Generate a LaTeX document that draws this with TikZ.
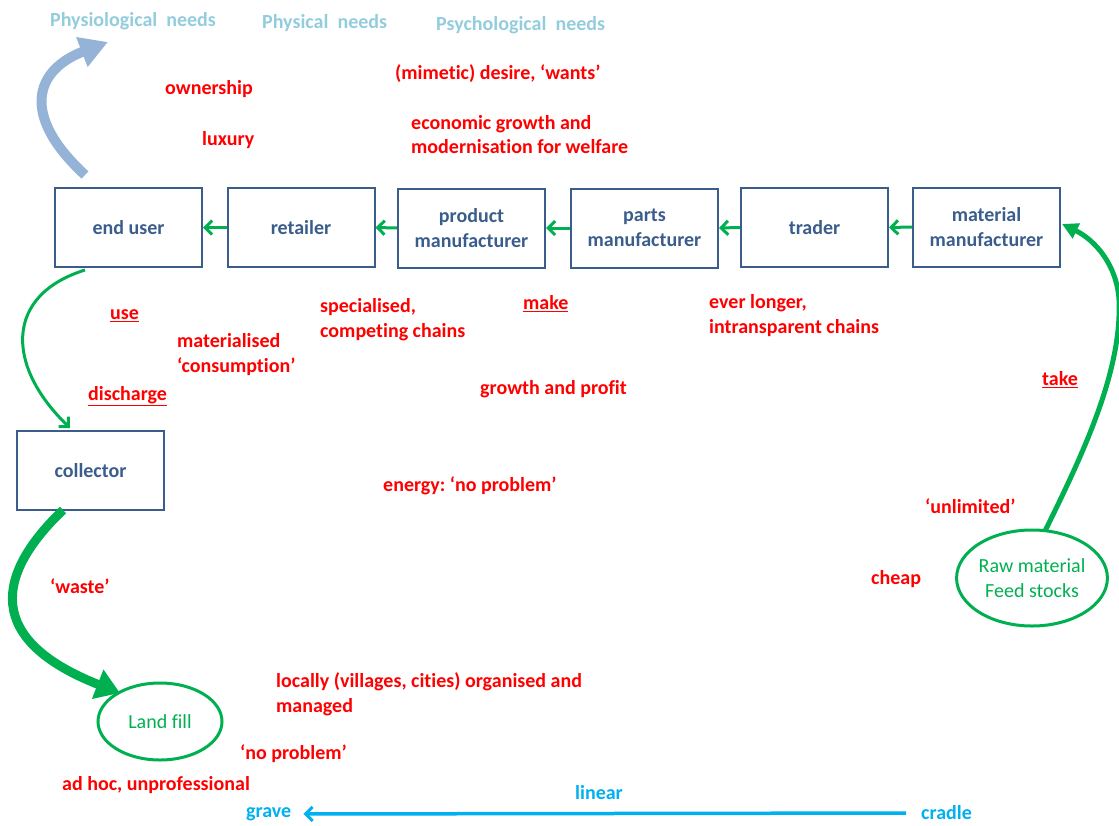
\documentclass[tikz,border=0pt]{standalone}
\usepackage{fontspec}
\setmainfont{Carlito}[Ligatures=NoCommon]
\usetikzlibrary{arrows.meta,shapes.geometric}
\definecolor{boxblue}{HTML}{3A5D8C}
\definecolor{flowgreen}{HTML}{00B050}
\definecolor{notered}{HTML}{FF0000}
\definecolor{needblue}{HTML}{93CDDD}
\definecolor{steelarrow}{HTML}{95B3D7}
\definecolor{lineblue}{HTML}{00B0F0}
\newcommand\lblfont{\fontsize{20}{24.8}\selectfont\bfseries\frenchspacing}
\newcommand\ovalfont{\fontsize{20}{24.8}\selectfont\frenchspacing}
\begin{document}
\begin{tikzpicture}[x=1pt,y=-1pt,
  stagebox/.style={draw=boxblue, line width=2pt, minimum width=147pt,
    minimum height=79pt, text=boxblue, font=\lblfont, align=center, inner sep=0pt},
  oval/.style={draw=flowgreen, line width=3pt, ellipse, text=flowgreen,
    font=\ovalfont, align=center, inner sep=0pt},
  note/.style={text=notered, font=\lblfont, anchor=west, inner sep=0pt, align=left},
  need/.style={text=needblue, font=\lblfont, anchor=west, inner sep=0pt},
  span/.style={text=lineblue, font=\lblfont, inner sep=0pt},
  chain/.style={draw=flowgreen, line width=3pt,
    -{Straight Barb[length=7pt,width=14pt,line width=3pt]}},
]
\useasboundingbox (0,0) rectangle (1119,825);

% supply chain boxes
\node[stagebox] (enduser)  at (128.5,227.5) {end user};
\node[stagebox] (retailer) at (301,227.5) {retailer};
\node[stagebox] (prodman)  at (471.5,228) {product\\manufacturer};
\node[stagebox] (partsman) at (644.5,228) {parts\\manufacturer};
\node[stagebox] (trader)   at (814.5,227.5) {trader};
\node[stagebox] (matman)   at (986.5,227) {material\\manufacturer};
\node[stagebox] (collector) at (90.5,470.5) {collector};

% start and end of the chain
\node[oval, minimum width=124pt, minimum height=77pt] (landfill) at (160,721.5) {Land fill};
\node[oval, minimum width=150pt, minimum height=96pt] (raw) at (1032,578) {Raw material\\Feed stocks};

% flow between the boxes
\draw[chain] (retailer.west) -- (enduser.east);
\draw[chain] (prodman.west) -- (retailer.east);
\draw[chain] (partsman.west) -- (prodman.east);
\draw[chain] (trader.west) -- (partsman.east);
\draw[chain] (matman.west) -- (trader.east);

% end user to collector
\coordinate (euout) at (85,270);
\coordinate (colin) at (70,428);
\draw[draw=flowgreen, line width=3pt,
  -{Straight Barb[length=7pt,width=14pt,line width=3pt]}]
  (euout) .. controls (5,295) and (5,365) .. (colin);

% collector to land fill
\coordinate (colout) at (63,510);
\coordinate (lfin) at (120,693);
\draw[draw=flowgreen, line width=9pt, -{Triangle[length=24pt,width=30pt]}]
  (colout) .. controls (-5,575) and (-15,640) .. (lfin);

% raw material to material manufacturer
\coordinate (rawout) at (1045,531);
\coordinate (bend) at (1119,300);
\coordinate (matin) at (1062,224);
\draw[draw=flowgreen, line width=5pt, -{Triangle[length=16pt,width=16pt]}]
  (rawout) .. controls (1085,450) and (1122,370) .. (bend)
  .. controls (1117,265) and (1095,240) .. (matin);

% end user towards needs
\coordinate (needsfrom) at (85,175);
\coordinate (needsto) at (108,42);
\draw[draw=steelarrow, line width=10pt, -{Triangle[length=28pt,width=30pt]}]
  (needsfrom) .. controls (20,115) and (35,70) .. (needsto);

% needs
\node[need] (physio) at (50,21) {Physiological\ \ needs};
\node[need] (physic) at (262,23) {Physical\ \ needs};
\node[need] (psycho) at (436,25) {Psychological\ \ needs};

% remarks
\node[note] (own) at (165,89) {ownership};
\node[note] (lux) at (202,140) {luxury};
\node[note] (desire) at (395,74) {(mimetic) desire, ‘wants’};
\node[note] (growth) at (411,134.5) {economic growth and\\modernisation for welfare};
\node[note] (use) at (110,316) {\underline{use}};
\node[note] (consume) at (177,354.5) {materialised\\‘consumption’};
\node[note] (discharge) at (88,396) {\underline{discharge}};
\node[note] (special) at (320,320) {specialised,\\competing chains};
\node[note] (make) at (523,304) {\underline{make}};
\node[note] (longer) at (709,315.5) {ever longer,\\intransparent chains};
\node[note] (profit) at (480,389) {growth and profit};
\node[note] (take) at (1042,380) {\underline{take}};
\node[note] (energy) at (383,486) {energy: ‘no problem’};
\node[note] (unlim) at (925,506) {‘unlimited’};
\node[note] (cheap) at (871,579) {cheap};
\node[note] (waste) at (50,586) {‘waste’};
\node[note] (local) at (276,694) {locally (villages, cities) organised and\\managed};
\node[note] (noprob) at (240,754) {‘no problem’};
\node[note] (adhoc) at (62,785) {ad hoc, unprofessional};

% cradle to grave
\node[span, anchor=west] (grave) at (246,814) {grave};
\node[span, anchor=west] (cradle) at (921,813) {cradle};
\node[span] (linear) at (599,793) {linear};
\draw[draw=lineblue, line width=3.5pt,
  -{Straight Barb[length=7pt,width=14pt,line width=3pt]},
  shorten <=15pt, shorten >=12pt] (cradle.west) -- (grave.east);
\end{tikzpicture}
\end{document}
